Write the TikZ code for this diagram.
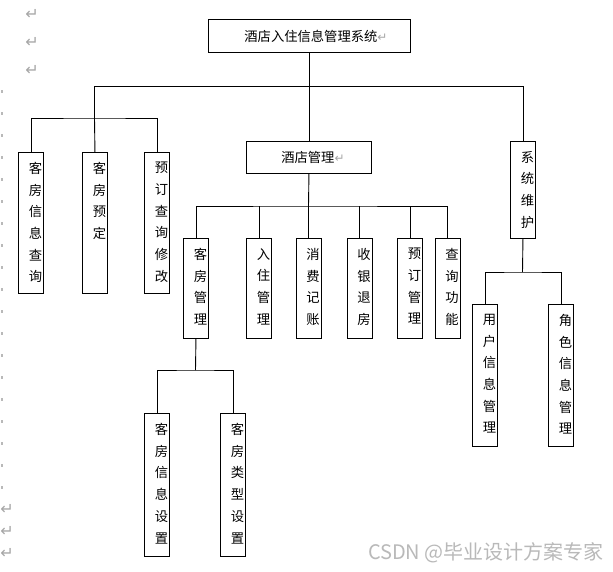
\documentclass[tikz,border=0pt]{standalone}
\usepackage{fontspec}
\newfontfamily\cjk{Noto Sans CJK SC}
\newfontfamily\symf{DejaVu Sans}
\tikzset{
  vbox/.style={draw, line width=0.9pt, minimum width=25pt, inner sep=0pt, anchor=north west},
  hbox/.style={draw, line width=0.9pt, inner sep=0pt, anchor=north west},
  vtxt/.style={anchor=north, align=center, inner sep=0pt, font=\cjk\fontsize{13.3}{21.7}\selectfont},
  htxt/.style={inner sep=0pt, font=\cjk\fontsize{13.3}{16}\selectfont},
  conn/.style={line width=0.9pt},
  pmark/.style={text=gray!70, inner sep=0pt, font=\symf\fontsize{16}{16}\selectfont},
}
\newcommand{\parmk}{\textcolor{gray!70}{\symf\fontsize{12}{12}\selectfont ↵}}
\begin{document}
\begin{tikzpicture}[x=1pt,y=-1pt]
\useasboundingbox (0,0) rectangle (613,571);
\fill[white] (0,0) rectangle (613,571);
% margin marks
\foreach \yy in {90,112,...,486} {\fill[gray!55] (0.5,\yy) rectangle (2.5,\yy+3);}
\node[pmark] (p1) at (32,14) {↵};
\node[pmark] (p2) at (32,42) {↵};
\node[pmark] (p3) at (32,70) {↵};
\node[pmark] (p4) at (7,509) {↵};
\node[pmark] (p5) at (7,531) {↵};
\node[pmark] (p6) at (7,553) {↵};

% top
\node[hbox, minimum width=202pt, minimum height=33pt] (top) at (207.5,19) {};
\node[htxt] (top-t) at ([xshift=7pt]top.center) {酒店入住信息管理系统\parmk};

% left group
\node[vbox, minimum height=141pt] (kfxx) at (18,152) {};
\node[vtxt] (kfxx-t) at ([xshift=4.5pt,yshift=-10pt]kfxx.north) {客\\房\\信\\息\\查\\询};
\node[vbox, minimum height=141pt] (kfyd) at (82,152) {};
\node[vtxt] (kfyd-t) at ([xshift=4.5pt,yshift=-10pt]kfyd.north) {客\\房\\预\\定};
\node[vbox, minimum height=141pt] (ydcx) at (144,152) {};
\node[vtxt] (ydcx-t) at ([xshift=4.5pt,yshift=-10pt]ydcx.north) {预\\订\\查\\询\\修\\改};

% hotel management
\node[hbox, minimum width=125pt, minimum height=32pt] (jdgl) at (246,141) {};
\node[htxt] (jdgl-t) at ([xshift=4pt]jdgl.center) {酒店管理\parmk};

\node[vbox, minimum height=100pt] (kfgl) at (183,238) {};
\node[vtxt] (kfgl-t) at ([xshift=4.5pt,yshift=-10pt]kfgl.north) {客\\房\\管\\理};
\node[vbox, minimum height=100pt] (rzgl) at (246,238) {};
\node[vtxt] (rzgl-t) at ([xshift=4.5pt,yshift=-10pt]rzgl.north) {入\\住\\管\\理};
\node[vbox, minimum height=100pt] (xfjz) at (295.5,238) {};
\node[vtxt] (xfjz-t) at ([xshift=4.5pt,yshift=-10pt]xfjz.north) {消\\费\\记\\账};
\node[vbox, minimum height=100pt] (sytf) at (346.5,238) {};
\node[vtxt] (sytf-t) at ([xshift=4.5pt,yshift=-10pt]sytf.north) {收\\银\\退\\房};
\node[vbox, minimum height=100pt] (ydgl) at (397,238) {};
\node[vtxt] (ydgl-t) at ([xshift=4.5pt,yshift=-10pt]ydgl.north) {预\\订\\管\\理};
\node[vbox, minimum height=100pt] (cxgn) at (434.5,238) {};
\node[vtxt] (cxgn-t) at ([xshift=4.5pt,yshift=-10pt]cxgn.north) {查\\询\\功\\能};

\node[vbox, minimum height=143pt] (kfxs) at (144,413) {};
\node[vtxt] (kfxs-t) at ([xshift=4.5pt,yshift=-10pt]kfxs.north) {客\\房\\信\\息\\设\\置};
\node[vbox, minimum height=143pt] (kflx) at (220,413) {};
\node[vtxt] (kflx-t) at ([xshift=4.5pt,yshift=-10pt]kflx.north) {客\\房\\类\\型\\设\\置};

% system maintenance
\node[vbox, minimum height=97pt] (xtwh) at (510,141) {};
\node[vtxt] (xtwh-t) at ([xshift=4.5pt,yshift=-10pt]xtwh.north) {系\\统\\维\\护};
\node[vbox, minimum height=142pt] (yhxx) at (472,304) {};
\node[vtxt] (yhxx-t) at ([xshift=4.5pt,yshift=-10pt]yhxx.north) {用\\户\\信\\息\\管\\理};
\node[vbox, minimum height=142pt] (jsxx) at (548,304) {};
\node[vtxt] (jsxx-t) at ([xshift=4.5pt,yshift=-10pt]jsxx.north) {角\\色\\信\\息\\管\\理};

% junctions
\coordinate (busA) at (94.5,86);
\coordinate (jL) at (94.5,118);
\coordinate (jM) at (308.5,206);
\coordinate (jS) at (522.5,272);
\coordinate (jK) at (195.5,370);

% connectors
\draw[conn] (top.south) -- (jdgl.north);
\draw[conn] (jL) -- (busA) -| (xtwh.north);
\draw[conn] (kfxx.north) |- (jL) -| (ydcx.north);
\draw[conn] (kfyd.north) -- (jL);
\draw[conn] (jdgl.south) -- (jM);
\draw[conn] (kfgl.north) |- (jM) -| (cxgn.north);
\draw[conn] (rzgl.north) -- (rzgl.north |- jM);
\draw[conn] (xfjz.north) -- (xfjz.north |- jM);
\draw[conn] (sytf.north) -- (sytf.north |- jM);
\draw[conn] (ydgl.north) -- (ydgl.north |- jM);
\draw[conn] (xtwh.south) -- (jS);
\draw[conn] (yhxx.north) |- (jS) -| (jsxx.north);
\draw[conn] (kfgl.south) -- (jK);
\draw[conn] (kfxs.north) |- (jK) -| (kflx.north);

% watermark
\node[anchor=east, inner sep=0pt, text=gray!55, font=\cjk\fontsize{20}{20}\selectfont] (wm) at (604,553) {CSDN @毕业设计方案专家};
\end{tikzpicture}
\end{document}
